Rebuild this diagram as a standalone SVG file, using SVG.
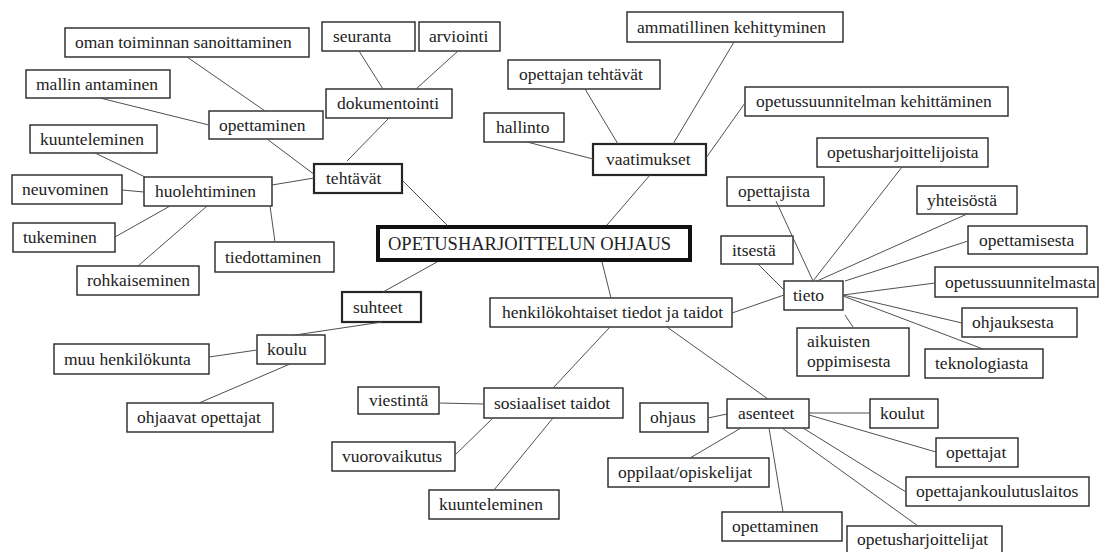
<svg xmlns="http://www.w3.org/2000/svg" width="1099" height="552" viewBox="0 0 1099 552">
  <style>
    .box { fill: #fff; stroke: #262626; stroke-width: 1.4; }
    .key { stroke-width: 2.2; }
    .root { stroke: #111; stroke-width: 4; }
    text { font-family: "Liberation Serif", "Times New Roman", serif; font-size: 17.5px; fill: #222; }
    .title { font-size: 18.5px; }
    #connectors line { stroke: #505050; stroke-width: 1; }
  </style>
  <rect width="1099" height="552" fill="#fff"/>

  <!-- root -->
  <g id="n-root"><rect class="box root" x="378" y="227" width="312" height="33"/><text class="title" x="388" y="250">OPETUSHARJOITTELUN OHJAUS</text></g>

  <!-- tehtävät branch -->
  <g id="n-tehtavat"><rect class="box key" x="314" y="164" width="88" height="29"/><text x="326" y="184">tehtävät</text></g>
  <g id="n-oman"><rect class="box" x="65" y="28" width="244" height="29"/><text x="75" y="48">oman toiminnan sanoittaminen</text></g>
  <g id="n-mallin"><rect class="box" x="26" y="70" width="144" height="28"/><text x="36" y="90">mallin antaminen</text></g>
  <g id="n-opettaminen1"><rect class="box" x="209" y="111" width="114" height="28"/><text x="219" y="131">opettaminen</text></g>
  <g id="n-seuranta"><rect class="box" x="322" y="22" width="93" height="29"/><text x="333" y="42">seuranta</text></g>
  <g id="n-arviointi"><rect class="box" x="419" y="22" width="81" height="29"/><text x="429" y="42">arviointi</text></g>
  <g id="n-dokumentointi"><rect class="box" x="326" y="89" width="126" height="29"/><text x="337" y="109">dokumentointi</text></g>
  <g id="n-kuunteleminen1"><rect class="box" x="30" y="125" width="127" height="28"/><text x="40" y="145">kuunteleminen</text></g>
  <g id="n-neuvominen"><rect class="box" x="12" y="175" width="110" height="29"/><text x="22" y="195">neuvominen</text></g>
  <g id="n-huolehtiminen"><rect class="box" x="144" y="177" width="128" height="29"/><text x="155" y="197">huolehtiminen</text></g>
  <g id="n-tukeminen"><rect class="box" x="13" y="223" width="102" height="29"/><text x="23" y="243">tukeminen</text></g>
  <g id="n-rohkaiseminen"><rect class="box" x="77" y="266" width="122" height="29"/><text x="87" y="286">rohkaiseminen</text></g>
  <g id="n-tiedottaminen"><rect class="box" x="215" y="242" width="119" height="30"/><text x="225" y="263">tiedottaminen</text></g>

  <!-- suhteet branch -->
  <g id="n-suhteet"><rect class="box key" x="342" y="292" width="79" height="30"/><text x="353" y="313">suhteet</text></g>
  <g id="n-koulu"><rect class="box" x="257" y="335" width="68" height="29"/><text x="267" y="355">koulu</text></g>
  <g id="n-muu"><rect class="box" x="54" y="344" width="155" height="30"/><text x="64" y="365">muu henkilökunta</text></g>
  <g id="n-ohjaavat"><rect class="box" x="127" y="403" width="146" height="29"/><text x="137" y="423">ohjaavat opettajat</text></g>

  <!-- vaatimukset branch -->
  <g id="n-vaatimukset"><rect class="box key" x="593" y="144" width="113" height="31"/><text x="606" y="165">vaatimukset</text></g>
  <g id="n-opettajan"><rect class="box" x="508" y="60" width="152" height="29"/><text x="519" y="80">opettajan tehtävät</text></g>
  <g id="n-hallinto"><rect class="box" x="484" y="113" width="80" height="29"/><text x="496" y="133">hallinto</text></g>
  <g id="n-ammatillinen"><rect class="box" x="627" y="12" width="216" height="30"/><text x="637" y="33">ammatillinen kehittyminen</text></g>
  <g id="n-ops-kehittaminen"><rect class="box" x="745" y="87" width="263" height="29"/><text x="756" y="107">opetussuunnitelman kehittäminen</text></g>

  <!-- henkilökohtaiset tiedot ja taidot branch -->
  <g id="n-henk"><rect class="box" x="490" y="298" width="242" height="29"/><text x="502" y="318">henkilökohtaiset tiedot ja taidot</text></g>
  <g id="n-tieto"><rect class="box" x="784" y="281" width="59" height="29"/><text x="793" y="301">tieto</text></g>
  <g id="n-itsesta"><rect class="box" x="721" y="236" width="72" height="28"/><text x="732" y="256">itsestä</text></g>
  <g id="n-opettajista"><rect class="box" x="727" y="177" width="97" height="29"/><text x="738" y="197">opettajista</text></g>
  <g id="n-opetusharjoittelijoista"><rect class="box" x="817" y="138" width="171" height="29"/><text x="827" y="158">opetusharjoittelijoista</text></g>
  <g id="n-yhteisosta"><rect class="box" x="917" y="186" width="100" height="28"/><text x="927" y="206">yhteisöstä</text></g>
  <g id="n-opettamisesta"><rect class="box" x="968" y="226" width="119" height="28"/><text x="979" y="246">opettamisesta</text></g>
  <g id="n-opetussuunnitelmasta"><rect class="box" x="935" y="267" width="163" height="30"/><text x="945" y="288">opetussuunnitelmasta</text></g>
  <g id="n-ohjauksesta"><rect class="box" x="962" y="308" width="115" height="29"/><text x="972" y="328">ohjauksesta</text></g>
  <g id="n-teknologiasta"><rect class="box" x="925" y="349" width="118" height="29"/><text x="935" y="369">teknologiasta</text></g>
  <g id="n-aikuisten"><rect class="box" x="797" y="328" width="112" height="48"/><text x="807" y="347">aikuisten</text><text x="807" y="367">oppimisesta</text></g>

  <g id="n-sosiaaliset"><rect class="box" x="484" y="388" width="139" height="30"/><text x="494" y="409">sosiaaliset taidot</text></g>
  <g id="n-viestinta"><rect class="box" x="358" y="387" width="81" height="27"/><text x="369" y="406">viestintä</text></g>
  <g id="n-vuorovaikutus"><rect class="box" x="332" y="442" width="123" height="29"/><text x="342" y="462">vuorovaikutus</text></g>
  <g id="n-kuunteleminen2"><rect class="box" x="429" y="490" width="130" height="29"/><text x="439" y="510">kuunteleminen</text></g>

  <g id="n-asenteet"><rect class="box" x="727" y="399" width="82" height="29"/><text x="738" y="419">asenteet</text></g>
  <g id="n-ohjaus"><rect class="box" x="640" y="403" width="68" height="29"/><text x="650" y="423">ohjaus</text></g>
  <g id="n-oppilaat"><rect class="box" x="608" y="458" width="161" height="29"/><text x="618" y="478">oppilaat/opiskelijat</text></g>
  <g id="n-koulut"><rect class="box" x="870" y="399" width="68" height="29"/><text x="880" y="419">koulut</text></g>
  <g id="n-opettajat"><rect class="box" x="936" y="438" width="82" height="29"/><text x="946" y="458">opettajat</text></g>
  <g id="n-opettajankoulutuslaitos"><rect class="box" x="906" y="477" width="183" height="29"/><text x="916" y="497">opettajankoulutuslaitos</text></g>
  <g id="n-opettaminen2"><rect class="box" x="722" y="512" width="120" height="29"/><text x="732" y="532">opettaminen</text></g>
  <g id="n-opetusharjoittelijat"><rect class="box" x="847" y="526" width="155" height="40"/><text x="857" y="545">opetusharjoittelijat</text></g>

  <g id="connectors">
    <line x1="187" y1="57" x2="265" y2="111"/>
    <line x1="100" y1="98" x2="209" y2="125"/>
    <line x1="267" y1="139" x2="315" y2="175"/>
    <line x1="95" y1="153" x2="145" y2="177"/>
    <line x1="122" y1="190" x2="144" y2="192"/>
    <line x1="272" y1="185" x2="314" y2="178"/>
    <line x1="115" y1="237" x2="170" y2="206"/>
    <line x1="138" y1="266" x2="207" y2="206"/>
    <line x1="275" y1="242" x2="270" y2="206"/>
    <line x1="359" y1="51" x2="383" y2="89"/>
    <line x1="458" y1="51" x2="416" y2="89"/>
    <line x1="389" y1="118" x2="347" y2="161"/>
    <line x1="403" y1="181" x2="447" y2="225"/>
    <line x1="437" y1="262" x2="383" y2="292"/>
    <line x1="382" y1="322" x2="295" y2="335"/>
    <line x1="209" y1="357" x2="257" y2="350"/>
    <line x1="290" y1="364" x2="199" y2="403"/>
    <line x1="585" y1="89" x2="618" y2="144"/>
    <line x1="527" y1="142" x2="593" y2="159"/>
    <line x1="734" y1="42" x2="673" y2="144"/>
    <line x1="745" y1="103" x2="706" y2="158"/>
    <line x1="650" y1="175" x2="607" y2="225"/>
    <line x1="602" y1="262" x2="611" y2="298"/>
    <line x1="732" y1="313" x2="784" y2="295"/>
    <line x1="758" y1="264" x2="784" y2="290"/>
    <line x1="776" y1="201" x2="813" y2="281"/>
    <line x1="902" y1="167" x2="813" y2="281"/>
    <line x1="967" y1="214" x2="817" y2="281"/>
    <line x1="968" y1="241" x2="845" y2="281"/>
    <line x1="935" y1="283" x2="843" y2="295"/>
    <line x1="962" y1="323" x2="843" y2="295"/>
    <line x1="983" y1="349" x2="843" y2="296"/>
    <line x1="853" y1="327" x2="845" y2="315"/>
    <line x1="610" y1="327" x2="553" y2="388"/>
    <line x1="667" y1="327" x2="768" y2="399"/>
    <line x1="439" y1="403" x2="484" y2="404"/>
    <line x1="493" y1="418" x2="455" y2="455"/>
    <line x1="553" y1="418" x2="494" y2="490"/>
    <line x1="708" y1="418" x2="727" y2="414"/>
    <line x1="741" y1="428" x2="690" y2="458"/>
    <line x1="809" y1="413" x2="870" y2="413"/>
    <line x1="809" y1="415" x2="936" y2="452"/>
    <line x1="803" y1="428" x2="906" y2="492"/>
    <line x1="769" y1="428" x2="783" y2="512"/>
    <line x1="782" y1="428" x2="918" y2="526"/>
  </g>
</svg>
